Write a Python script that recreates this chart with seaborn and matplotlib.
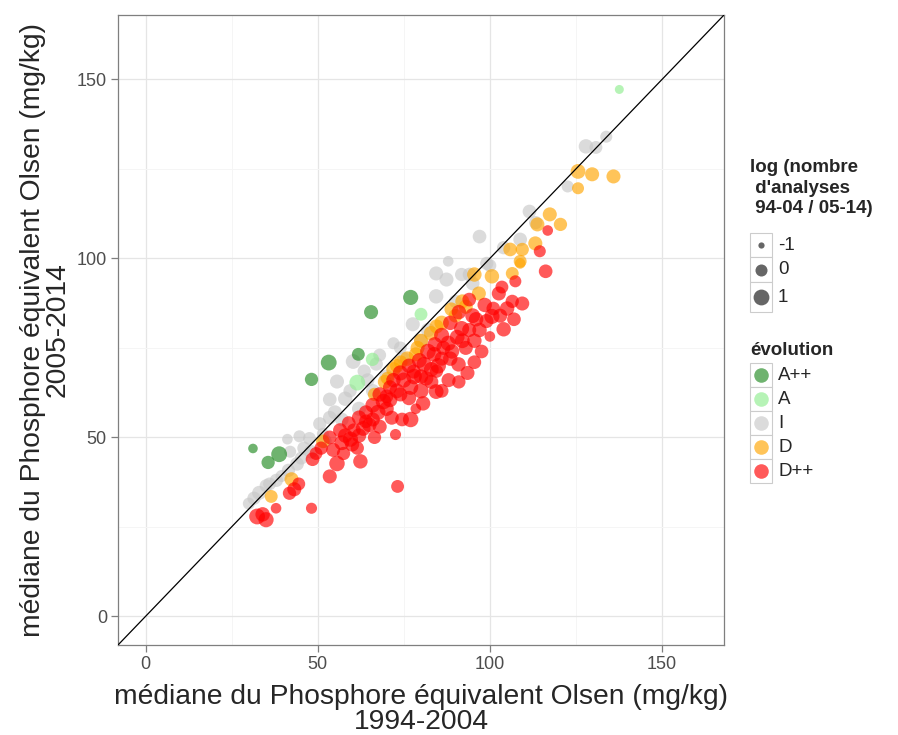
import pandas as pd
import matplotlib
matplotlib.use("Agg")
import matplotlib.pyplot as plt
import seaborn as sns
from matplotlib.patches import Rectangle

# --- data: medians 1994-2004 (x) vs 2005-2014 (y), log ratio of counts (size) ---
aa_x = [31.2, 38.8, 35.6, 77.0, 65.5, 53.2, 61.8, 48.2]
aa_y = [46.9, 45.3, 43.0, 89.1, 85.0, 70.9, 73.2, 66.2]
aa_s = [-0.5, 1.3, 0.3, 0.8, 0.5, 1.0, 0.2, 0.3]

a_x = [137.6, 80.0, 65.9, 61.5]
a_y = [147.2, 84.4, 71.8, 65.3]
a_s = [-0.6, 0.2, 0.3, 1.0]

i_x = [30.0, 31.5, 33.0, 36.0, 39.5, 41.5, 44.0, 45.2, 42.0, 41.2, 44.7, 47.6, 51.5, 50.6,
       53.5, 55.0, 53.5, 58.0, 55.6, 59.4, 60.3, 63.5, 64.5, 67.0, 68.0, 72.0, 74.0, 77.6,
       84.4, 87.4, 87.9, 91.8, 94.1, 97.0, 99.1, 108.8, 111.5, 113.3, 122.6, 127.9, 130.8,
       133.8, 84.4, 46.0, 48.0, 52.0, 57.0, 62.0, 66.0, 70.0, 75.0, 80.0, 82.0, 90.0, 95.0,
       100.0, 104.0, 38.0, 35.0]
i_y = [31.5, 33.0, 34.5, 37.0, 39.2, 40.8, 42.6, 44.2, 46.0, 49.5, 50.3, 49.7, 51.0, 53.8,
       55.5, 57.0, 60.6, 60.8, 65.6, 63.0, 71.2, 68.5, 66.0, 70.5, 73.0, 76.3, 75.0, 81.6,
       89.4, 94.1, 99.2, 95.5, 95.5, 106.1, 98.6, 105.3, 113.1, 110.0, 120.1, 131.3, 131.0,
       134.0, 95.8, 47.0, 46.0, 49.0, 55.0, 58.0, 63.0, 67.0, 72.0, 77.0, 80.0, 88.0, 93.0,
       98.0, 103.0, 38.0, 36.5]
i_s = [0.0, 0.3, 0.5, 0.2, 0.0, 0.3, 0.4, 0.2, 0.0, -0.3, 0.0, 0.2, 0.0, 0.3,
       0.4, 0.5, 0.4, 0.6, 0.5, 0.3, 0.7, 0.3, 0.4, 0.3, 0.2, 0.0, 0.2, 0.5,
       0.6, 0.5, -0.3, 0.3, 0.4, 0.4, 0.3, 0.4, 0.4, 0.3, 0.0, 0.6, 0.2,
       0.0, 0.5, 0.3, 0.4, 0.5, 0.4, 0.5, 0.4, 0.5, 0.3, 0.4, 0.5, 0.3, 0.4,
       0.2, 0.3, 0.3, 0.2]

d_x = [36.5, 42.4, 51.5, 66.5, 69.5, 70.3, 72.0, 74.1, 78.5, 82.9, 84.5, 88.8, 93.0, 96.8,
       100.6, 106.5, 108.8, 108.8, 105.9, 109.4, 113.2, 113.8, 117.4, 120.5, 125.6, 129.7,
       135.9, 125.6, 80.0, 86.0, 90.0, 92.0, 76.0, 73.0, 79.0, 95.5]
d_y = [33.5, 38.3, 48.9, 62.0, 65.5, 66.5, 69.0, 71.0, 73.2, 79.1, 81.0, 85.8, 86.5, 90.2,
       95.0, 95.8, 98.6, 99.2, 102.5, 102.5, 104.2, 109.5, 112.3, 109.5, 124.3, 123.5,
       122.9, 119.6, 77.0, 82.0, 84.0, 88.0, 72.0, 70.0, 75.0, 95.5]
d_s = [0.2, 0.5, 0.4, 0.3, 0.5, 0.3, 0.6, 0.4, 0.5, 0.6, 0.5, 0.4, 0.5, 0.5,
       0.6, 0.2, -0.3, 0.2, 0.4, 0.3, 0.5, 0.5, 0.5, 0.3, 0.7, 0.5,
       0.5, 0.0, 0.5, 0.6, 0.4, 0.5, 0.6, 0.4, 0.5, 0.6]

dd_x = [32.4, 35.0, 34.0, 37.9, 48.2, 43.2, 41.8, 44.5, 48.5, 53.5, 55.6, 62.4, 61.5, 57.5,
        54.5, 57.0, 59.5, 62.0, 63.2, 65.0, 60.5, 66.0, 67.5, 69.1, 70.0, 72.6, 73.2, 71.5,
        74.5, 77.0, 78.5, 80.6, 84.4, 83.0, 80.0, 76.5, 73.0, 71.0, 75.0, 78.0, 77.9, 80.9,
        83.8, 85.0, 87.9, 88.5, 90.9, 91.8, 93.0, 95.5, 97.6, 95.5, 93.5, 97.0, 100.0, 100.6,
        104.0, 102.6, 105.0, 107.0, 109.4, 106.5, 107.4, 103.5, 98.5, 95.0, 99.0, 116.2,
        114.5, 116.8, 86.0, 84.0, 82.0, 79.5, 76.5, 74.0, 72.0, 70.0, 66.0, 64.0, 62.0,
        59.0, 56.5, 53.5, 51.0, 49.5, 88.5, 90.5, 86.5, 84.5, 81.5, 91.0, 94.0, 66.5, 68.0,
        88.0, 91.0, 86.0, 68.0, 71.0, 74.0, 77.0, 80.0, 83.0, 86.0, 89.0, 92.0, 94.0, 96.0,
        101.0, 103.0, 58.0, 60.0, 64.0]
dd_y = [27.9, 27.0, 28.5, 30.2, 30.2, 35.5, 34.4, 37.0, 43.9, 39.1, 42.7, 43.3, 47.0, 45.5,
        46.5, 48.5, 49.5, 50.5, 52.5, 53.5, 52.0, 55.0, 57.0, 60.0, 58.0, 50.8, 36.3, 55.5,
        55.0, 55.0, 58.0, 59.5, 62.8, 65.5, 63.0, 61.0, 63.0, 64.0, 66.0, 67.0, 68.4, 70.4,
        73.2, 70.0, 76.3, 72.0, 70.4, 80.4, 75.0, 77.0, 74.0, 71.0, 68.0, 80.0, 78.2, 83.8,
        80.2, 90.2, 86.0, 83.0, 87.4, 88.0, 93.6, 92.0, 87.0, 84.0, 82.5, 96.4,
        102.0, 107.8, 78.5, 76.0, 74.0, 71.5, 70.0, 68.0, 66.0, 61.5, 59.0, 57.0, 55.5,
        54.0, 52.0, 50.0, 47.0, 45.5, 82.0, 78.0, 75.0, 68.5, 66.5, 85.0, 88.5, 50.0, 53.0,
        66.0, 65.5, 63.0, 62.0, 60.5, 62.0, 64.0, 67.0, 69.0, 72.0, 74.0, 77.0, 80.0, 83.0,
        86.0, 84.0, 50.5, 48.0, 54.5]
dd_s = [1.3, 0.8, 0.6, -0.3, -0.2, 0.5, 0.3, 0.2, 0.4, 0.5, 0.9, 0.6, 0.3, 0.3,
        0.5, 0.7, 0.8, 0.6, 0.7, 0.6, 0.4, 0.5, 0.8, 0.9, 0.6, -0.2, 0.2, 0.5,
        0.4, 0.9, -0.3, 0.6, 0.7, 0.5, 0.8, 0.6, 0.7, 0.5, 0.8, 0.9, 0.5, 0.8,
        0.7, 0.9, 0.8, 0.6, 0.6, 0.8, 0.5, 0.6, 0.4, 0.4, 0.5, 0.6, -0.3, 0.8,
        0.6, 0.5, 0.6, 0.4, 0.5, 0.3, 0.0, 0.2, 0.6, 0.7, 0.5, 0.4,
        0.0, -0.3, 0.8, 0.6, 0.9, 0.7, 0.6, 0.8, 0.6, 0.4, 0.7, 0.5, 0.6,
        0.4, 0.5, 0.4, 0.3, 0.2, 0.6, 0.7, 0.5, 0.3, 0.6, 0.6, 0.4, 0.3, 0.5,
        0.5, 0.3, 0.4, 0.6, 0.7, 0.5, 0.8, 0.6, 0.7, 0.5, 0.6, 0.7, 0.5, 0.6,
        0.4, 0.5, 0.6, 0.5, 0.4]

levels = ["A++", "A", "I", "D", "D++"]
palette = {"A++": "#228B22", "A": "#90EE90", "I": "#C8C8C8", "D": "#FFA500", "D++": "#FF0000"}

frames = []
for lab, xs, ys, ss in [("I", i_x, i_y, i_s), ("A", a_x, a_y, a_s), ("A++", aa_x, aa_y, aa_s),
                        ("D", d_x, d_y, d_s), ("D++", dd_x, dd_y, dd_s)]:
    frames.append(pd.DataFrame({"x": xs, "y": ys, "logr": ss, "evolution": lab}))
df = pd.concat(frames, ignore_index=True)

size_range = (20, 130)

sns.set_style("white")
plt.rcParams['font.family'] = ['Liberation Sans', 'DejaVu Sans']

fig = plt.figure(figsize=(8.98, 7.35), dpi=100)
ax = fig.add_axes([118 / 898, 1 - 645 / 735, (724 - 118) / 898, (645 - 15) / 735])

sns.scatterplot(data=df, x="x", y="y", hue="evolution", palette=palette, size="logr",
                sizes=size_range, size_norm=(-1, 1), alpha=0.65, linewidth=0,
                legend=False, ax=ax, zorder=3)
ax.axline((0, 0), slope=1, color="black", lw=0.9, zorder=4)

ax.set_xlim(-8, 168)
ax.set_ylim(-8, 168)
ax.set_xticks([0, 50, 100, 150])
ax.set_yticks([0, 50, 100, 150])
ax.set_xticks([25, 75, 125], minor=True)
ax.set_yticks([25, 75, 125], minor=True)
ax.grid(True, which="major", color="#E5E5E5", lw=0.9, zorder=0)
ax.grid(True, which="minor", color="#F5F5F5", lw=0.7, zorder=0)
ax.set_axisbelow(True)
for sp in ax.spines.values():
    sp.set_color("#7F7F7F")
    sp.set_linewidth(0.9)
ax.tick_params(which="major", direction="out", length=5, width=0.9, color="#7F7F7F",
               labelsize=13, labelcolor="#4D4D4D", bottom=True, left=True, pad=3)
ax.tick_params(which="minor", length=0)

ax.set_xlabel("médiane du Phosphore équivalent Olsen (mg/kg)\n1994-2004", fontsize=20.3,
              linespacing=0.95, labelpad=8)
ax.set_ylabel("médiane du Phosphore équivalent Olsen (mg/kg)\n2005-2014", fontsize=20.3,
              linespacing=0.95, labelpad=4)

# --- legends, laid out in figure pixels ---
lg = fig.add_axes([0, 0, 1, 1])
lg.set_xlim(0, 898)
lg.set_ylim(735, 0)
lg.axis("off")

lg.text(750, 188, "log (nombre\n d'analyses\n 94-04 / 05-14)", fontsize=13.5,
        fontweight="bold", va="center", ha="left", linespacing=1.25)
size_keys = [-1, 0, 1]
size_pts = [size_range[0] + (k + 1) / 2 * (size_range[1] - size_range[0]) for k in size_keys]
size_rows = [(233, 24), (257, 25), (282, 30)]
for k, sp_, (top, h) in zip(size_keys, size_pts, size_rows):
    lg.add_patch(Rectangle((750, top), 22, h, facecolor="white", edgecolor="#CCCCCC", lw=0.8))
    lg.scatter([761], [top + h / 2], s=sp_, color="black", alpha=0.6, linewidth=0)
    lg.text(778, top + h / 2, str(k), fontsize=13.5, va="center", ha="left")

lg.text(750, 350, "évolution", fontsize=13.5, fontweight="bold", va="center", ha="left")
for j, lab in enumerate(levels):
    top = 363 + j * 24
    lg.add_patch(Rectangle((750, top), 22, 24, facecolor="white", edgecolor="#CCCCCC", lw=0.8))
    lg.scatter([761], [top + 12], s=110, color=palette[lab], alpha=0.65, linewidth=0)
    lg.text(778, top + 12, lab, fontsize=13.5, va="center", ha="left")

fig.savefig("out.png", dpi=100)
